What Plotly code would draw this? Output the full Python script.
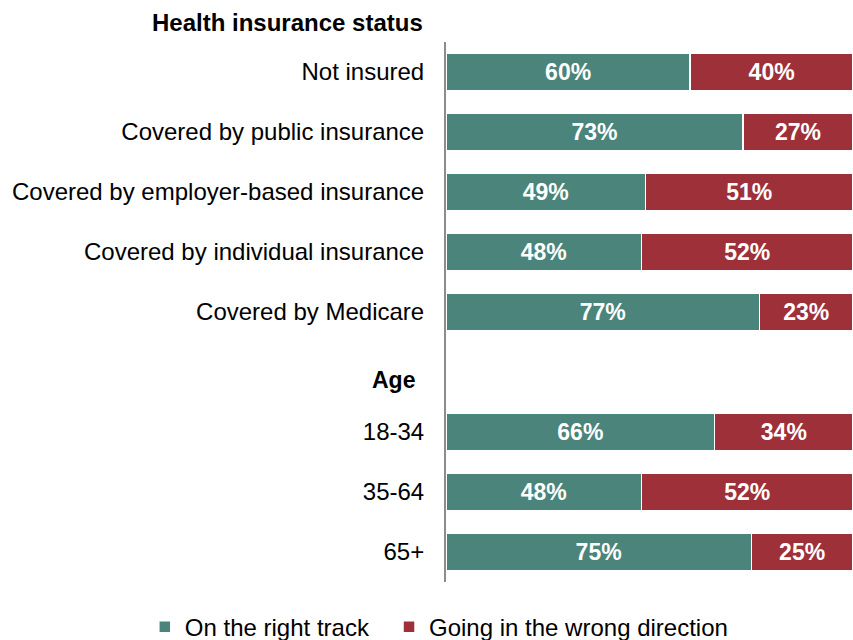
import plotly.graph_objects as go

categories = ["Not insured", "Covered by public insurance", "Covered by employer-based insurance",
              "Covered by individual insurance", "Covered by Medicare", " ",
              "18-34", "35-64", "65+"]
right_track = [60, 73, 49, 48, 77, None, 66, 48, 75]
wrong_direction = [40, 27, 51, 52, 23, None, 34, 52, 25]
series_names = ["On the right track", "Going in the wrong direction"]
colors = ["#4a847b", "#9e303a"]
legend_ids = ["legend", "legend2"]

fig = go.Figure()
for name, vals, col, lg in zip(series_names, [right_track, wrong_direction], colors, legend_ids):
    fig.add_trace(go.Bar(
        y=categories, x=vals, name=name, orientation="h", legend=lg,
        marker=dict(color=col, line=dict(color="white", width=1.5)),
        width=0.62,
        text=[f"<b>{v}%</b>" if v is not None else "" for v in vals],
        textposition="inside", insidetextanchor="middle",
        textfont=dict(color="white", size=23, family="Liberation Sans, Arial"),
        hoverinfo="skip",
    ))

leg_common = dict(orientation="h", xref="paper", yref="paper", xanchor="left",
                  y=-0.042, yanchor="top", font=dict(size=24), itemwidth=30)
fig.update_layout(
    width=853, height=640,
    barmode="stack",
    margin=dict(l=446, r=0, t=42, b=58, autoexpand=False),
    plot_bgcolor="white", paper_bgcolor="white",
    font=dict(family="Liberation Sans, Arial", size=24, color="black"),
    showlegend=True,
    legend=dict(x=-0.74, **leg_common),
    legend2=dict(x=-0.14, **leg_common),
    uniformtext=dict(mode="show", minsize=10),
)
fig.update_xaxes(range=[0, 100], visible=False, fixedrange=True)
fig.update_yaxes(categoryorder="array", categoryarray=categories,
                 showline=True, linecolor="#8c8c8c", linewidth=2, ticks="",
                 ticklabelstandoff=15, tickfont=dict(size=24, color="black"),
                 showgrid=False, range=[8.5, -0.5], fixedrange=True)

fig.add_annotation(text="<b>Health insurance status</b>", xref="paper", yref="paper",
                   x=0, y=1, xanchor="right", yanchor="bottom", xshift=-21, yshift=4,
                   showarrow=False, font=dict(size=24, color="black"))
fig.add_annotation(text="<b>Age</b>", xref="paper", yref="y",
                   x=0, y=" ", xanchor="right", yanchor="middle", xshift=-29, yshift=-8,
                   showarrow=False, font=dict(size=23, color="black"))

fig.write_html("out.html", config={"displayModeBar": False},
               post_script="document.body.style.margin='0';")
